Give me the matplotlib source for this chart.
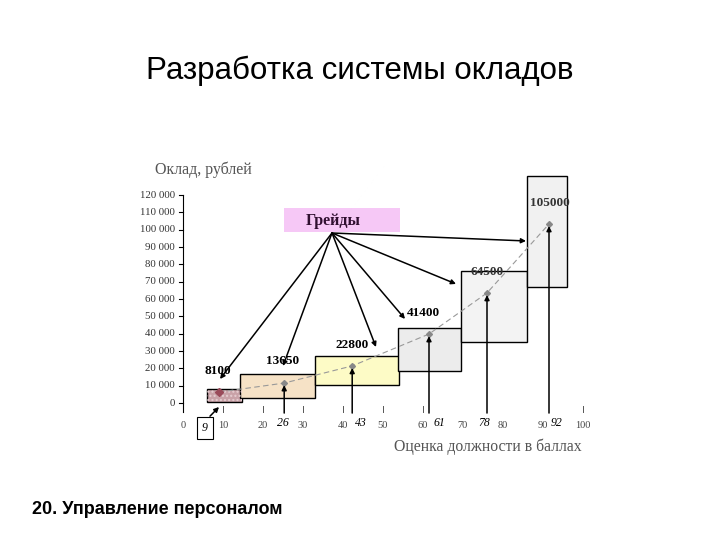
import matplotlib
matplotlib.use('Agg')
import matplotlib.pyplot as plt
from matplotlib.patches import Rectangle

# grade boxes: score range and salary range
grade_x0 = [6, 14.25, 33, 53.75, 69.5, 86]
grade_x1 = [14.75, 33, 54, 69.5, 86, 96]
grade_y0 = [500, 2900, 10400, 18500, 35200, 66900]
grade_y1 = [8000, 16700, 27100, 43300, 76200, 131000]
grade_colors = ['#c9a2a8', '#f6e2c6', '#fdfbc6', '#ececec', '#f3f3f3', '#f1f1f1']

# positions on the salary curve
point_x = [9, 25.3, 42.3, 61.5, 76, 91.5]
point_y = [6300, 11500, 21400, 39800, 63500, 103300]
scores = ['9', '26', '43', '61', '78', '92']
score_label_x = [5.5, 25, 44.5, 64, 75.3, 93.5]
salaries = ['8100', '13650', '22800', '41400', '64500', '105000']
salary_label_x = [8.75, 25, 42.25, 60, 76, 91.75]
salary_label_y = [18500, 24200, 33500, 51900, 75600, 115400]

# targets of the arrows coming from "Грейды"
grade_arrow_x = [9.25, 25, 48.25, 55.5, 68.25, 85.75]
grade_arrow_y = [13850, 21350, 32300, 48500, 68700, 93500]

xticks = [0, 10, 20, 30, 40, 50, 60, 70, 80, 90, 100]
xtick_marks = [10, 20, 30, 40, 50, 60, 100]
yticks = [0, 10000, 20000, 30000, 40000, 50000, 60000,
          70000, 80000, 90000, 100000, 110000, 120000]

serif = ['Liberation Serif', 'DejaVu Serif']
sans = ['Liberation Sans', 'DejaVu Sans']

fig = plt.figure(figsize=(7.2, 5.4), dpi=100)
fig.patch.set_facecolor('white')

# axes placed so that x: 0 -> 183 px, 4 px/unit ; y: 0 -> 403 px, 1.733 px/1000
x_lo, x_hi = -10, 110
y_lo, y_hi = -30000, 140000
px_x = lambda v: 183 + 4 * v
px_y = lambda v: 403 - 0.001733 * v
left = px_x(x_lo) / 720
right = px_x(x_hi) / 720
top = 1 - px_y(y_hi) / 540
bottom = 1 - px_y(y_lo) / 540
ax = fig.add_axes([left, bottom, right - left, top - bottom])
ax.set_xlim(x_lo, x_hi)
ax.set_ylim(y_lo, y_hi)
ax.axis('off')

fig.text(0.5, 1 - 71 / 540, 'Разработка системы окладов', ha='center', va='center',
         fontsize=22.5, family=sans)
fig.text(32 / 720, 1 - 509 / 540, '20. Управление персоналом', ha='left', va='center',
         fontsize=13, fontweight='bold', family=sans)

# y axis
ax.plot([0, 0], [-5000, 120000], color='black', lw=0.8)
for yv in yticks:
    ax.plot([-0.9, 0], [yv, yv], color='black', lw=0.8)
    lab = '0' if yv == 0 else '{:,}'.format(yv).replace(',', ' ')
    ax.text(-2.0, yv, lab, ha='right', va='center', fontsize=7.8, family=serif, color='#333333')
ax.text(-7, 134500, 'Оклад, рублей', ha='left', va='center', fontsize=11.5, family=serif,
        color='#555555')

# x tick marks and labels
for xv in xtick_marks:
    ax.plot([xv, xv], [-1500, -5200], color='#555555', lw=0.7)
for xv in xticks:
    ax.text(xv, -12700, str(xv), ha='center', va='center', fontsize=7.5, family=serif,
            color='#444444')
ax.text(76.25, -25400, 'Оценка должности в баллах', ha='center', va='center', fontsize=11.3,
        family=serif, color='#555555')

# grade boxes
for i in range(len(grade_x0)):
    ax.add_patch(Rectangle((grade_x0[i], grade_y0[i]), grade_x1[i] - grade_x0[i],
                           grade_y1[i] - grade_y0[i], facecolor=grade_colors[i],
                           edgecolor='black', lw=1.0, zorder=2))
ax.add_patch(Rectangle((grade_x0[0], grade_y0[0]), grade_x1[0] - grade_x0[0],
                       grade_y1[0] - grade_y0[0], fill=False, hatch='....',
                       edgecolor='#e6cdd1', lw=0, zorder=2))

# salary curve
ax.plot(point_x, point_y, ls=(0, (5, 3)), color='#999999', lw=0.8, zorder=3)
ax.plot(point_x[1:], point_y[1:], 'D', ms=3, color='#888888', zorder=4)
ax.plot(point_x[0], point_y[0], 'D', ms=4, color='#9a4a5a', zorder=4)

# vertical arrows from the scores
for i in range(1, len(point_x)):
    ax.annotate('', xy=(point_x[i], point_y[i] - 1200), xytext=(point_x[i], -5800),
                arrowprops=dict(arrowstyle='-|>', color='black', lw=1.1,
                                mutation_scale=7, shrinkA=0, shrinkB=0), zorder=5)
    ax.text(score_label_x[i], -11300, scores[i], ha='center', va='center', fontsize=8.5,
            style='italic', family=serif)

# boxed "9"
ax.text(score_label_x[0], -14400, scores[0], ha='center', va='center', fontsize=8.5,
        style='italic', family=serif,
        bbox=dict(boxstyle='square,pad=0.4', facecolor='white', edgecolor='black', lw=0.8))
ax.annotate('', xy=(9, -2300), xytext=(6.75, -7600),
            arrowprops=dict(arrowstyle='-|>', color='black', lw=1.1, mutation_scale=7,
                            shrinkA=0, shrinkB=0))

# salary labels
for i in range(len(salaries)):
    ax.text(salary_label_x[i], salary_label_y[i], salaries[i], ha='center', va='center',
            fontsize=9.5, fontweight='bold', family=serif,
            color='black' if i < 4 else '#333333', zorder=6)

# "Грейды" label with arrows
ax.add_patch(Rectangle((25.25, 98700), 29, 13800, facecolor='#f6c8f6', edgecolor='none',
                       zorder=2))
ax.text(37.5, 105300, 'Грейды', ha='center', va='center', fontsize=11.5, fontweight='bold',
        family=serif, color='#301030', zorder=6)
for tx, ty in zip(grade_arrow_x, grade_arrow_y):
    ax.annotate('', xy=(tx, ty), xytext=(37.25, 98100),
                arrowprops=dict(arrowstyle='-|>', color='black', lw=1.1, mutation_scale=7,
                                shrinkA=0, shrinkB=0), zorder=5)

fig.savefig('out.png', dpi=100)
